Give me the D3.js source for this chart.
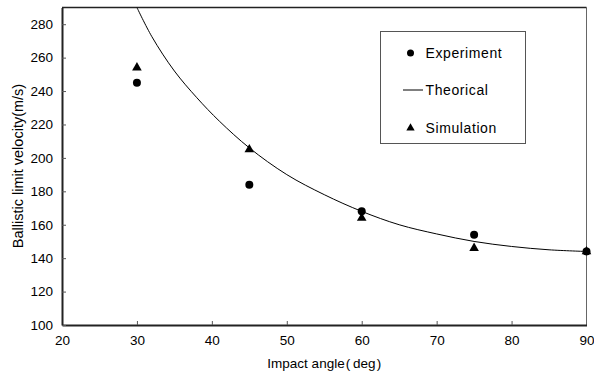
<!DOCTYPE html>
<html>
<head>
<meta charset="utf-8">
<script src="https://cdn.jsdelivr.net/npm/d3@7"></script>
<style>
  body { margin: 0; background: #fff; }
  text { font-family: Arial, "Liberation Sans", sans-serif; fill: #000; }
</style>
</head>
<body>
<div class="vis-chart"></div>
<script>
const angles = [30, 45, 60, 75, 90];
const experiment = [245, 184, 168, 154, 144];
const simulation = [254, 205, 164, 146, 144];
const theoryAngles = [30, 32, 35, 38, 41, 45, 50, 55, 60, 65, 70, 75, 80, 85, 90];
const theoryValues = [290, 272.5, 252, 236, 222, 206, 190, 178, 168, 160, 154.5, 150, 147, 145, 144];
const xTicks = [20, 30, 40, 50, 60, 70, 80, 90];
const yTicks = [100, 120, 140, 160, 180, 200, 220, 240, 260, 280];
const legendLabels = ['Experiment', 'Theorical', 'Simulation'];

const width = 594, height = 376;
const margin = {top: 7.5, right: 7.5, bottom: 51, left: 62};
const w = width - margin.left - margin.right;
const h = height - margin.top - margin.bottom;

const svg = d3.select('.vis-chart').append('svg')
    .attr('width', width)
    .attr('height', height);

const g = svg.append('g')
    .attr('transform', 'translate(' + margin.left + ',' + margin.top + ')');

const x = d3.scaleLinear().domain([20, 90]).range([0, w]);
const y = d3.scaleLinear().domain([100, 290]).range([h, 0]);

g.append('clipPath').attr('id', 'clip')
    .append('rect').attr('width', w).attr('height', h);

// frame: right side grey, top dark
g.append('line').attr('x1', w).attr('x2', w).attr('y1', 0).attr('y2', h)
    .attr('stroke', '#666').attr('stroke-width', 1);
g.append('line').attr('x1', 0).attr('x2', w).attr('y1', 0).attr('y2', 0)
    .attr('stroke', '#222').attr('stroke-width', 1.5);

// axes
const xAxis = g.append('g')
    .attr('transform', 'translate(0,' + h + ')')
    .call(d3.axisBottom(x).tickValues(xTicks).tickSizeInner(-4).tickSizeOuter(0).tickPadding(10));
const yAxis = g.append('g')
    .call(d3.axisLeft(y).tickValues(yTicks).tickSizeInner(-4).tickSizeOuter(0).tickPadding(9));

[xAxis, yAxis].forEach(function (a) {
    a.select('.domain').attr('stroke', '#222').attr('stroke-width', 2);
    a.selectAll('.tick line').attr('stroke', '#555');
    a.selectAll('.tick text').style('font-size', '13.5px')
        .style('font-family', 'Arial, "Liberation Sans", sans-serif');
});
xAxis.selectAll('.tick').filter(function (d) { return d === 20 || d === 90; })
    .select('line').remove();

// theoretical curve
const theory = theoryAngles.map(function (a, i) { return {a: a, v: theoryValues[i]}; });
g.append('path')
    .datum(theory)
    .attr('clip-path', 'url(#clip)')
    .attr('fill', 'none')
    .attr('stroke', '#000')
    .attr('stroke-width', 1)
    .attr('d', d3.line()
        .curve(d3.curveCatmullRom)
        .x(function (d) { return x(d.a); })
        .y(function (d) { return y(d.v); }));

const tri = d3.symbol().type(d3.symbolTriangle).size(40);

// simulation
g.selectAll('.sim')
    .data(angles)
    .enter().append('path')
    .attr('class', 'sim')
    .attr('d', tri)
    .attr('fill', '#000')
    .attr('transform', function (d, i) {
        return 'translate(' + x(d) + ',' + y(simulation[i]) + ')';
    });

// experiment
g.selectAll('.exp')
    .data(angles)
    .enter().append('circle')
    .attr('class', 'exp')
    .attr('cx', function (d) { return x(d); })
    .attr('cy', function (d, i) { return y(experiment[i]); })
    .attr('r', 4)
    .attr('fill', '#000');

// axis titles
svg.append('text')
    .attr('x', margin.left + w / 2)
    .attr('y', 368)
    .attr('text-anchor', 'middle')
    .style('font-size', '13.5px')
    .text('Impact angle\u200A(\u2009deg\u200A)');

svg.append('text')
    .attr('transform', 'translate(23,166) rotate(-90)')
    .attr('text-anchor', 'middle')
    .style('font-size', '14.5px')
    .text('Ballistic limit velocity(m/s)');

// legend
const legend = svg.append('g');
legend.append('rect')
    .attr('x', 380.5).attr('y', 31.5)
    .attr('width', 145).attr('height', 112)
    .attr('fill', '#fff')
    .attr('stroke', '#555')
    .attr('stroke-width', 1);

const legendY = [53, 90, 128];
legendLabels.forEach(function (lab, i) {
    const ly = legendY[i];
    if (i === 0) {
        legend.append('circle').attr('cx', 410.5).attr('cy', ly).attr('r', 3.5).attr('fill', '#000');
    } else if (i === 1) {
        legend.append('line').attr('x1', 403).attr('x2', 423).attr('y1', ly).attr('y2', ly)
            .attr('stroke', '#000').attr('stroke-width', 1);
    } else {
        legend.append('path').attr('d', d3.symbol().type(d3.symbolTriangle).size(30))
            .attr('transform', 'translate(410.5,' + ly + ')').attr('fill', '#000');
    }
    legend.append('text')
        .attr('x', 425.5)
        .attr('y', ly)
        .attr('dy', '0.35em')
        .style('font-size', '14px')
        .style('letter-spacing', '0.6px')
        .text(lab);
});
</script>
</body>
</html>
